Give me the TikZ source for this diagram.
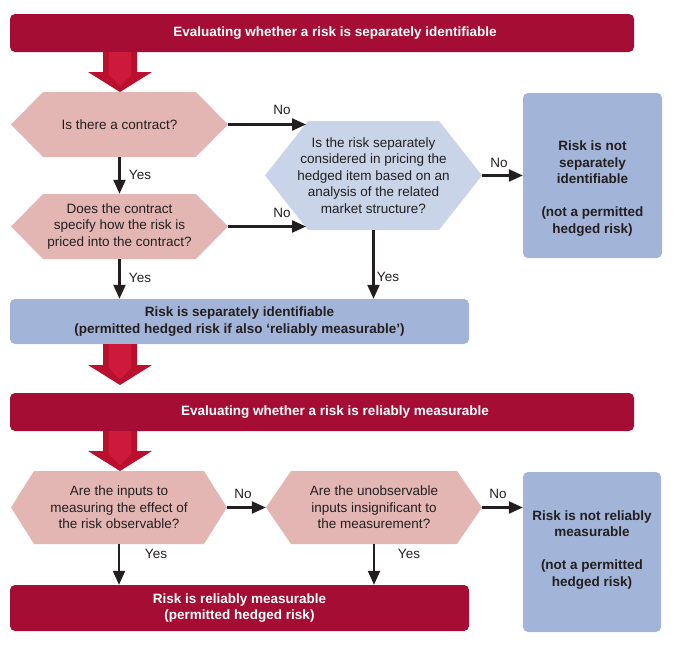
\documentclass[tikz,border=0pt]{standalone}
\usepackage{fontspec}
\setmainfont{Liberation Sans}
\usetikzlibrary{arrows.meta}
\definecolor{crimson}{RGB}{165,13,52}
\definecolor{arrowred}{RGB}{186,16,46}
\definecolor{arrowlight}{RGB}{206,26,58}
\definecolor{pinkq}{RGB}{227,182,179}
\definecolor{paleblue}{RGB}{201,212,233}
\definecolor{boxblue}{RGB}{162,180,216}
\definecolor{ink}{RGB}{35,31,32}

% hexagon behind a question: style, cx, cy, w, h, dx
\newcommand{\hexfill}[6]{%
  \fill[#1] (#2-#4/2+#6,#3-#5/2) -- (#2+#4/2-#6,#3-#5/2) -- (#2+#4/2,#3)
    -- (#2+#4/2-#6,#3+#5/2) -- (#2-#4/2+#6,#3+#5/2) -- (#2-#4/2,#3) -- cycle;}
% big red arrow between stages: top, tip
\newcommand{\bigdown}[2]{%
  \fill[arrowred] (103,#1) -- (137,#1) -- (137,#2-20) -- (152,#2-20) -- (120,#2)
    -- (88,#2-20) -- (103,#2-20) -- cycle;
  \fill[arrowlight] (109,#1) -- (131,#1) -- (131,#2-17) -- (120,#2-6) -- (109,#2-17) -- cycle;}

\begin{document}
\begin{tikzpicture}[x=1pt,y=-1pt,
  qtext/.style={align=center, text=ink, inner sep=0pt, font=\fontsize{13.5}{16.5}\selectfont},
  titlebar/.style={fill=crimson, rounded corners=5pt, text=white, inner sep=0pt,
    font=\bfseries\fontsize{13.5}{16.5}\selectfont},
  redbar/.style={titlebar, align=center},
  bluebar/.style={fill=boxblue, rounded corners=5pt, text=ink, inner sep=0pt, align=center,
    font=\bfseries\fontsize{13.5}{16.5}\selectfont},
  btext/.style={align=center, text=ink, inner sep=0pt, font=\bfseries\fontsize{13.5}{16.5}\selectfont},
  lbl/.style={text=ink, inner sep=0pt, font=\fontsize{13.5}{15}\selectfont},
  flow/.style={draw=ink, line width=2.3pt, -{Triangle[length=14pt,width=12pt]}}]
  \useasboundingbox (0,0) rectangle (681,645);

  % stage 1: separately identifiable
  \node[titlebar, minimum width=624, minimum height=38] (stage1) at (322,33)
    {\hspace*{26pt}Evaluating whether a risk is separately identifiable};
  \bigdown{52}{92}

  \hexfill{pinkq}{119.5}{124.5}{217}{65}{32}
  \node[qtext, minimum width=217, minimum height=65] (q1) at (119.5,124.5) {Is there a contract?};
  \hexfill{pinkq}{119.5}{226.5}{217}{65}{32}
  \node[qtext, minimum width=217, minimum height=65] (q2) at (119.5,226.5)
    {Does the contract\\specify how the risk is\\priced into the contract?};
  \hexfill{paleblue}{373.5}{175.5}{217}{109}{43}
  \node[qtext, minimum width=217, minimum height=109] (q3) at (373.5,175.5)
    {Is the risk separately\\considered in pricing the\\hedged item based on an\\analysis of the related\\market structure?};

  \node[bluebar, minimum width=139, minimum height=165] (nosep) at (592.5,175.5) {};
  \node[btext] (nosept) at (592.5,188.5) {Risk is not\\separately\\identifiable\\[16.5pt](not a permitted\\hedged risk)};
  \node[bluebar, minimum width=459, minimum height=45] (idf) at (239.5,321.5)
    {Risk is separately identifiable\\(permitted hedged risk if also `reliably measurable')};

  \coordinate (e1) at (306,124.5);
  \coordinate (e2) at (306,226.5);
  \draw[flow] (q1.east) -- (e1);
  \draw[flow] (q2.east) -- (e2);
  \draw[flow] (q1.south) -- (q2.north);
  \draw[flow] (q2.south) -- (q2.south |- idf.north);
  \draw[flow] (q3.south) -- (q3.south |- idf.north);
  \draw[flow] (q3.east) -- (nosep.west);
  \node[lbl] (no1) at (282,110) {No};
  \node[lbl] (no2) at (282,213) {No};
  \node[lbl] (no3) at (499,163) {No};
  \node[lbl] (yes1) at (140,175) {Yes};
  \node[lbl] (yes2) at (140,278) {Yes};
  \node[lbl] (yes3) at (388,277) {Yes};

  % stage 2: reliably measurable
  \bigdown{344}{385}
  \node[titlebar, minimum width=624, minimum height=38] (stage2) at (322,412)
    {\hspace*{26pt}Evaluating whether a risk is reliably measurable};
  \bigdown{431}{471}

  \hexfill{pinkq}{119}{507.5}{216}{73}{23}
  \node[qtext, minimum width=216, minimum height=73] (q4) at (119,507.5)
    {Are the inputs to\\measuring the effect of\\the risk observable?};
  \hexfill{pinkq}{374}{507.5}{216}{73}{25}
  \node[qtext, minimum width=216, minimum height=73] (q5) at (374,507.5)
    {Are the unobservable\\inputs insignificant to\\the measurement?};

  \node[bluebar, minimum width=138, minimum height=160] (nomeas) at (592,552) {};
  \node[btext] (nomeast) at (592,550) {Risk is not reliably\\measurable\\[16.5pt](not a permitted\\hedged risk)};
  \node[redbar, minimum width=459, minimum height=46] (rel) at (239.5,608)
    {Risk is reliably measurable\\(permitted hedged risk)};

  \draw[flow] (q4.east) -- (q5.west);
  \draw[flow] (q5.east) -- (q5.east -| nomeas.west);
  \draw[flow] (q4.south) -- (q4.south |- rel.north);
  \draw[flow] (q5.south) -- (q5.south |- rel.north);
  \node[lbl] (no4) at (243,494) {No};
  \node[lbl] (no5) at (498,494) {No};
  \node[lbl] (yes4) at (156,554) {Yes};
  \node[lbl] (yes5) at (409,554) {Yes};
\end{tikzpicture}
\end{document}
